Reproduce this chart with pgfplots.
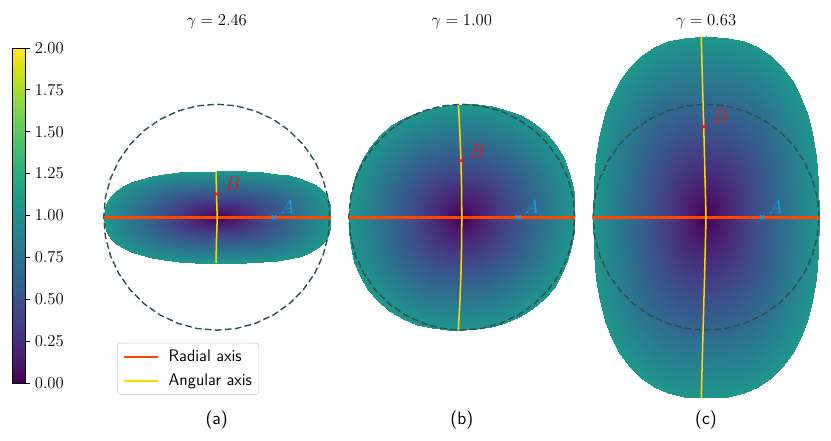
\RequirePackage{fix-cm}
\documentclass[border=0pt]{standalone}
\usepackage{pgfplots}
\usepackage{pgfplotstable}
\pgfplotsset{compat=1.18}
\definecolor{radial}{RGB}{255,69,0}
\definecolor{angular}{RGB}{255,215,0}
\definecolor{circ}{RGB}{47,79,79}
\definecolor{ptA}{RGB}{29,155,225}
\definecolor{ptB}{RGB}{225,25,35}
\tikzset{lblfont/.style={font=\fontsize{14}{17}\selectfont, anchor=base west, inner sep=0pt}}
\begin{document}
\pgfplotstableread{
x y
1 0
0.9848 0.1736
0.9397 0.3420
0.8660 0.5
0.7660 0.6428
0.6428 0.7660
0.5 0.8660
0.3420 0.9397
0.1736 0.9848
0 1
-0.1736 0.9848
-0.3420 0.9397
-0.5 0.8660
-0.6428 0.7660
-0.7660 0.6428
-0.8660 0.5
-0.9397 0.3420
-0.9848 0.1736
-1 0
-0.9848 -0.1736
-0.9397 -0.3420
-0.8660 -0.5
-0.7660 -0.6428
-0.6428 -0.7660
-0.5 -0.8660
-0.3420 -0.9397
-0.1736 -0.9848
0 -1
0.1736 -0.9848
0.3420 -0.9397
0.5 -0.8660
0.6428 -0.7660
0.7660 -0.6428
0.8660 -0.5
0.9397 -0.3420
0.9848 -0.1736
1 0
}\circtab
% shape (a): boundary row (value 1.05), then centre row (value 0)
\pgfplotstableread{
x y c
1.009 0 1.05
1.003 0.105 1.05
0.986 0.165 1.05
0.957 0.215 1.05
0.917 0.256 1.05
0.865 0.292 1.05
0.801 0.323 1.05
0.725 0.349 1.05
0.636 0.370 1.05
0.532 0.386 1.05
0.410 0.398 1.05
0.260 0.405 1.05
0 0.407 1.05
-0.196 0.404 1.05
-0.338 0.396 1.05
-0.462 0.382 1.05
-0.573 0.363 1.05
-0.670 0.338 1.05
-0.756 0.308 1.05
-0.828 0.274 1.05
-0.889 0.234 1.05
-0.936 0.189 1.05
-0.970 0.138 1.05
-0.990 0.080 1.05
-0.997 0 1.05
-0.990 -0.080 1.05
-0.970 -0.138 1.05
-0.936 -0.189 1.05
-0.889 -0.234 1.05
-0.828 -0.274 1.05
-0.756 -0.308 1.05
-0.670 -0.338 1.05
-0.573 -0.363 1.05
-0.462 -0.382 1.05
-0.338 -0.396 1.05
-0.196 -0.404 1.05
0 -0.407 1.05
0.260 -0.405 1.05
0.410 -0.398 1.05
0.532 -0.386 1.05
0.636 -0.370 1.05
0.725 -0.349 1.05
0.801 -0.323 1.05
0.865 -0.292 1.05
0.917 -0.256 1.05
0.957 -0.215 1.05
0.986 -0.165 1.05
1.003 -0.105 1.05
1.009 0 1.05
0 0 0
0 0 0
0 0 0
0 0 0
0 0 0
0 0 0
0 0 0
0 0 0
0 0 0
0 0 0
0 0 0
0 0 0
0 0 0
0 0 0
0 0 0
0 0 0
0 0 0
0 0 0
0 0 0
0 0 0
0 0 0
0 0 0
0 0 0
0 0 0
0 0 0
0 0 0
0 0 0
0 0 0
0 0 0
0 0 0
0 0 0
0 0 0
0 0 0
0 0 0
0 0 0
0 0 0
0 0 0
0 0 0
0 0 0
0 0 0
0 0 0
0 0 0
0 0 0
0 0 0
0 0 0
0 0 0
0 0 0
0 0 0
0 0 0
}\shapeA
\pgfplotstableread{
x y c
1.0000 0.0000 1.05
0.9979 0.1314 1.05
0.9828 0.2633 1.05
0.9522 0.3944 1.05
0.9032 0.5215 1.05
0.8345 0.6403 1.05
0.7460 0.7460 1.05
0.6403 0.8345 1.05
0.5215 0.9032 1.05
0.3944 0.9522 1.05
0.2633 0.9828 1.05
0.1314 0.9979 1.05
0.0000 1.0000 1.05
-0.1304 0.9902 1.05
-0.2594 0.9683 1.05
-0.3863 0.9326 1.05
-0.5085 0.8807 1.05
-0.6227 0.8115 1.05
-0.7248 0.7248 1.05
-0.8115 0.6227 1.05
-0.8807 0.5085 1.05
-0.9326 0.3863 1.05
-0.9683 0.2594 1.05
-0.9902 0.1304 1.05
-1.0000 0.0000 1.05
-0.9979 -0.1314 1.05
-0.9828 -0.2633 1.05
-0.9522 -0.3944 1.05
-0.9032 -0.5215 1.05
-0.8345 -0.6403 1.05
-0.7460 -0.7460 1.05
-0.6403 -0.8345 1.05
-0.5215 -0.9032 1.05
-0.3944 -0.9522 1.05
-0.2633 -0.9828 1.05
-0.1314 -0.9979 1.05
0.0000 -1.0000 1.05
0.1304 -0.9902 1.05
0.2594 -0.9683 1.05
0.3863 -0.9326 1.05
0.5085 -0.8807 1.05
0.6227 -0.8115 1.05
0.7248 -0.7248 1.05
0.8115 -0.6227 1.05
0.8807 -0.5085 1.05
0.9326 -0.3863 1.05
0.9683 -0.2594 1.05
0.9902 -0.1304 1.05
1.0000 0.0000 1.05
0 0 0
0 0 0
0 0 0
0 0 0
0 0 0
0 0 0
0 0 0
0 0 0
0 0 0
0 0 0
0 0 0
0 0 0
0 0 0
0 0 0
0 0 0
0 0 0
0 0 0
0 0 0
0 0 0
0 0 0
0 0 0
0 0 0
0 0 0
0 0 0
0 0 0
0 0 0
0 0 0
0 0 0
0 0 0
0 0 0
0 0 0
0 0 0
0 0 0
0 0 0
0 0 0
0 0 0
0 0 0
0 0 0
0 0 0
0 0 0
0 0 0
0 0 0
0 0 0
0 0 0
0 0 0
0 0 0
0 0 0
0 0 0
0 0 0
}\shapeB
\pgfplotstableread{
x y c
1.000 0.000 1.05
0.993 0.314 1.05
0.973 0.543 1.05
0.939 0.742 1.05
0.891 0.919 1.05
0.831 1.076 1.05
0.758 1.213 1.05
0.672 1.330 1.05
0.574 1.426 1.05
0.464 1.502 1.05
0.339 1.556 1.05
0.196 1.589 1.05
0.000 1.600 1.05
-0.196 1.589 1.05
-0.339 1.556 1.05
-0.464 1.502 1.05
-0.574 1.426 1.05
-0.672 1.330 1.05
-0.758 1.213 1.05
-0.831 1.076 1.05
-0.891 0.919 1.05
-0.939 0.742 1.05
-0.973 0.543 1.05
-0.993 0.314 1.05
-1.000 0.000 1.05
-0.993 -0.314 1.05
-0.973 -0.543 1.05
-0.939 -0.742 1.05
-0.891 -0.919 1.05
-0.831 -1.076 1.05
-0.758 -1.213 1.05
-0.672 -1.330 1.05
-0.574 -1.426 1.05
-0.464 -1.502 1.05
-0.339 -1.556 1.05
-0.196 -1.589 1.05
0.000 -1.600 1.05
0.196 -1.589 1.05
0.339 -1.556 1.05
0.464 -1.502 1.05
0.574 -1.426 1.05
0.672 -1.330 1.05
0.758 -1.213 1.05
0.831 -1.076 1.05
0.891 -0.919 1.05
0.939 -0.742 1.05
0.973 -0.543 1.05
0.993 -0.314 1.05
1.000 0.000 1.05
0 0 0
0 0 0
0 0 0
0 0 0
0 0 0
0 0 0
0 0 0
0 0 0
0 0 0
0 0 0
0 0 0
0 0 0
0 0 0
0 0 0
0 0 0
0 0 0
0 0 0
0 0 0
0 0 0
0 0 0
0 0 0
0 0 0
0 0 0
0 0 0
0 0 0
0 0 0
0 0 0
0 0 0
0 0 0
0 0 0
0 0 0
0 0 0
0 0 0
0 0 0
0 0 0
0 0 0
0 0 0
0 0 0
0 0 0
0 0 0
0 0 0
0 0 0
0 0 0
0 0 0
0 0 0
0 0 0
0 0 0
0 0 0
0 0 0
}\shapeC
\begin{tikzpicture}
\path (0,0) rectangle (598.32pt,317.52pt);
\pgfplotsset{
  panel/.style={
    anchor=center, x=81.36pt, y=81.36pt,
    xmin=-1.1, xmax=1.1, ymin=-1.65, ymax=1.65,
    enlargelimits=false, hide axis, clip=false,
    colormap/viridis, point meta min=0, point meta max=2,
  },
  shapefill/.style={surf, shader=interp, forget plot, mesh/cols=49},
  circline/.style={circ, line width=1pt, dash pattern=on 4.8pt off 2.4pt, forget plot},
  radline/.style={radial, line width=2.3pt},
  angline/.style={angular, line width=1.1pt},
  markA/.style={only marks, mark=x, mark size=2.2pt, ptA, mark options={line width=0.9pt}, forget plot},
  markB/.style={only marks, mark=x, mark size=2.2pt, ptB, mark options={line width=0.9pt}, forget plot},
}
% colour bar
\begin{axis}[at={(8.64pt,41.76pt)}, anchor=south west, width=9.36pt, height=241.2pt,
  scale only axis, xmin=0, xmax=1, ymin=0, ymax=2, enlargelimits=false,
  xtick=\empty, ytick={0,0.25,0.5,0.75,1,1.25,1.5,1.75,2},
  ytick pos=right, yticklabel pos=right, tick align=outside, major tick length=3.5pt,
  colormap/viridis, point meta min=0, point meta max=2, axis on top,
  axis line style={line width=0.6pt}, tick style={line width=0.6pt, black},
  yticklabel style={font=\fontsize{12}{14}\selectfont, /pgf/number format/.cd, fixed, fixed zerofill, precision=2}]
\addplot[surf, shader=interp, mesh/cols=2, point meta=explicit] table[x=x, y=y, meta=c] {
x y c
0 0 0
1 0 0
0 2 2
1 2 2
};
\end{axis}
% panel (a)
\begin{axis}[panel, at={(156.02pt,161.14pt)},
  legend style={at={(axis cs:-0.882,-1.112)}, anchor=north west,
    draw={rgb,255:red,204;green,204;blue,204}, rounded corners=2.5pt,
    font=\sffamily\fontsize{12}{14}\selectfont, inner xsep=3.5pt, inner ysep=3.5pt,
    row sep=4.5pt, column sep=5pt, nodes={inner sep=1.5pt}},
  legend cell align=left,
  legend image code/.code={\draw[#1, line width=2pt] (0pt,0pt) -- (25pt,0pt);}]
\addplot[shapefill, point meta=\thisrow{c}] table[x=x, y=y] {\shapeA};
\addplot[circline] table[x=x, y=y] {\circtab};
\addplot[radline] coordinates {(-0.997,0) (1.009,0)};
\addlegendentry{Radial axis}
\addplot[angline] coordinates {(-0.006,0.407) (-0.002,0.2) (0.005,0) (-0.002,-0.2) (-0.006,-0.407)};
\addlegendentry{Angular axis}
\addplot[markA] coordinates {(0.507,0)};
\addplot[markB] coordinates {(-0.001,0.205)};
\node[ptA, lblfont, xshift=4.3pt, yshift=2.9pt] at (axis cs:0.507,0) {$A$};
\node[ptB, lblfont, xshift=6pt, yshift=2.4pt] at (axis cs:-0.001,0.205) {$B$};
\node[font=\fontsize{12}{14}\selectfont, anchor=base] at (axis cs:0,1.693) {$\gamma = 2.46$};
\node[font=\sffamily\fontsize{13}{15}\selectfont, anchor=base] at (axis cs:0,-1.832) {(a)};
\end{axis}
% panel (b)
\begin{axis}[panel, at={(332.5pt,161.14pt)}]
\addplot[shapefill, point meta=\thisrow{c}] table[x=x, y=y] {\shapeB};
\addplot[circline] table[x=x, y=y] {\circtab};
\addplot[radline] coordinates {(-1.0,0) (1.0,0)};
\addplot[angline] coordinates {(-0.030,0.994) (-0.017,0.75) (-0.0075,0.5) (-0.002,0.25) (0,0) (-0.002,-0.25) (-0.0075,-0.5) (-0.017,-0.75) (-0.030,-0.998)};
\addplot[markA] coordinates {(0.5,0)};
\addplot[markB] coordinates {(-0.008,0.50)};
\node[ptA, lblfont, xshift=4.3pt, yshift=2.9pt] at (axis cs:0.5,0) {$A$};
\node[ptB, lblfont, xshift=6pt, yshift=2.4pt] at (axis cs:-0.008,0.50) {$B$};
\node[font=\fontsize{12}{14}\selectfont, anchor=base] at (axis cs:0,1.693) {$\gamma = 1.00$};
\node[font=\sffamily\fontsize{13}{15}\selectfont, anchor=base] at (axis cs:0,-1.832) {(b)};
\end{axis}
% panel (c)
\begin{axis}[panel, at={(508.32pt,161.14pt)}]
\addplot[shapefill, point meta=\thisrow{c}] table[x=x, y=y] {\shapeC};
\addplot[circline] table[x=x, y=y] {\circtab};
\addplot[radline] coordinates {(-1.0,0) (1.0,0)};
\addplot[angline] coordinates {(-0.042,1.60) (-0.032,1.2) (-0.020,0.8) (-0.010,0.4) (0,0) (-0.012,-0.5) (-0.026,-1.0) (-0.042,-1.6)};
\addplot[markA] coordinates {(0.496,0)};
\addplot[markB] coordinates {(-0.018,0.80)};
\node[ptA, lblfont, xshift=4.3pt, yshift=2.9pt] at (axis cs:0.496,0) {$A$};
\node[ptB, lblfont, xshift=6pt, yshift=2.4pt] at (axis cs:-0.018,0.80) {$B$};
\node[font=\fontsize{12}{14}\selectfont, anchor=base] at (axis cs:0,1.693) {$\gamma = 0.63$};
\node[font=\sffamily\fontsize{13}{15}\selectfont, anchor=base] at (axis cs:0,-1.832) {(c)};
\end{axis}
\end{tikzpicture}
\end{document}
